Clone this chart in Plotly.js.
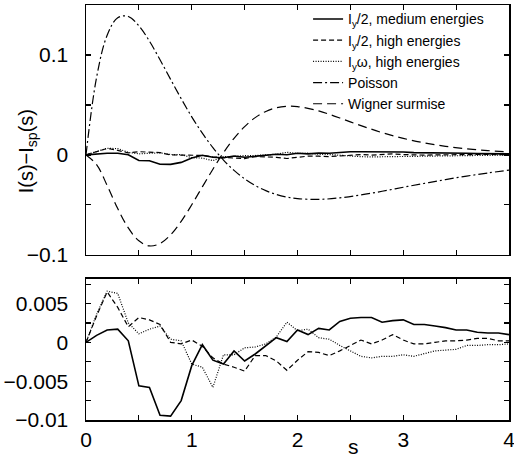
<!DOCTYPE html>
<html>
<head>
<meta charset="utf-8">
<script src="https://cdn.plot.ly/plotly-3.0.1.min.js"></script>
<style>html,body{margin:0;padding:0;background:#fff;}#chart{width:514px;height:460px;}</style>
</head>
<body>
<div id="chart"></div>
<script>
// spacing grid for measured data (step 0.1)
const sData = [0,0.1,0.2,0.3,0.4,0.5,0.6,0.7,0.8,0.9,1.0,1.1,1.2,1.3,1.4,1.5,1.6,1.7,1.8,1.9,2.0,
  2.1,2.2,2.3,2.4,2.5,2.6,2.7,2.8,2.9,3.0,3.1,3.2,3.3,3.4,3.5,3.6,3.7,3.8,3.9,4.0];
// I_y/2, medium energies (solid)
const iy2Medium = [0,0.0009,0.0016,0.0017,0.0002,-0.0056,-0.0058,-0.0094,-0.0095,-0.0075,-0.0030,
  -0.0003,-0.0023,-0.0028,-0.0011,-0.0024,-0.0015,-0.0004,0.0006,0.0001,0.0016,
  0.0010,0.0018,0.0016,0.0027,0.0031,0.0032,0.0032,0.0026,0.0028,0.0029,
  0.0023,0.0023,0.0021,0.0019,0.0016,0.0016,0.0013,0.0012,0.0012,0.0010];
// I_y/2, high energies (dashed)
const iy2High = [0,0.0034,0.0065,0.0045,0.0020,0.0032,0.0029,0.0023,0.0000,-0.0002,0.0003,
  -0.0005,-0.0020,-0.0028,-0.0032,-0.0037,-0.0017,-0.0017,-0.0024,-0.0036,-0.0023,
  -0.0012,-0.0013,-0.0017,-0.0011,-0.0004,0.0003,-0.0002,0.0003,0.0010,0.0003,
  -0.0002,-0.0002,0.0000,0.0002,0.0002,0.0003,0.0005,0.0005,0.0002,0.0002];
// I_y omega, high energies (dotted)
const iyOmegaHigh = [0,0.0036,0.0066,0.0063,0.0025,0.0011,0.0017,0.0021,0.0004,0.0002,-0.0028,
  -0.0032,-0.0058,-0.0016,-0.0016,-0.0007,-0.0006,-0.0002,0.0007,0.0026,0.0015,
  0.0017,0.0006,0.0004,-0.0004,-0.0011,-0.0018,-0.0020,-0.0018,-0.0018,-0.0016,
  -0.0018,-0.0015,-0.0011,-0.0010,-0.0009,-0.0004,-0.0004,-0.0003,-0.0003,-0.0002];
// reference curves
const sRef = [0,0.1,0.2,0.3,0.4,0.5,0.6,0.7,0.8,0.9,1.0,1.1,1.2,1.3,1.4,1.5,1.6,1.7,1.8,1.9,2.0,
  2.2,2.4,2.6,2.8,3.0,3.2,3.4,3.6,3.8,4.0];
const poisson = [0,0.0776,0.1197,0.1373,0.1385,0.1292,0.1138,0.0952,0.0756,0.0563,0.0381,
  0.0217,0.0073,-0.0052,-0.0155,-0.0240,-0.0307,-0.0358,-0.0396,-0.0422,-0.0438,
  -0.0445,-0.0430,-0.0401,-0.0364,-0.0324,-0.0285,-0.0247,-0.0212,-0.0181,-0.0153];
const wigner = [0,-0.0097,-0.0306,-0.0537,-0.0731,-0.0860,-0.0911,-0.0887,-0.0800,-0.0665,-0.0499,
  -0.0320,-0.0143,0.0022,0.0166,0.0283,0.0373,0.0435,0.0472,0.0487,0.0484,
  0.0440,0.0369,0.0293,0.0223,0.0165,0.0120,0.0086,0.0061,0.0043,0.0030];

const names = ["I<sub>y</sub>/2, medium energies","I<sub>y</sub>/2, high energies","I<sub>y</sub>\u03c9, high energies","Poisson","Wigner surmise"];
const xTickVals = [0,0.5,1,1.5,2,2.5,3,3.5,4];
const xTickText = ["0","","1","","2","","3","","4"];
const yTopVals = [-0.1,-0.05,0,0.05,0.1,0.15];
const yTopText = ["\u22120.1","","0","","0.1",""];
const yBotVals = [-0.01,-0.0075,-0.005,-0.0025,0,0.0025,0.005,0.0075];
const yBotText = ["\u22120.01","","\u22120.005","","0","","0.005",""];
const FONT = "Liberation Sans, Arial, Helvetica, sans-serif";

const dataStyles = [
  {y: iy2Medium, dash: "solid", width: 1.6},
  {y: iy2High, dash: "5px,3px", width: 1.2},
  {y: iyOmegaHigh, dash: "1px,1.5px", width: 1.2}
];
const traces = [];
dataStyles.forEach((d, i) => {
  traces.push({x: sData, y: d.y, xaxis: "x", yaxis: "y", mode: "lines", name: names[i],
    line: {color: "#000", width: d.width, dash: d.dash}});
});
traces.push({x: sRef, y: poisson, xaxis: "x", yaxis: "y", mode: "lines", name: names[3],
  line: {color: "#000", width: 1.2, dash: "9px,3px,2px,3px", shape: "spline"}});
traces.push({x: sRef, y: wigner, xaxis: "x", yaxis: "y", mode: "lines", name: names[4],
  line: {color: "#000", width: 1.2, dash: "9px,5px", shape: "spline"}});
dataStyles.forEach((d, i) => {
  traces.push({x: sData, y: d.y, xaxis: "x2", yaxis: "y2", mode: "lines", showlegend: false,
    line: {color: "#000", width: d.width, dash: d.dash}});
});

const axBase = {showgrid: false, zeroline: false, showline: true, linecolor: "#000", linewidth: 1.5,
  mirror: "allticks", ticks: "inside", ticklen: 5, tickwidth: 1.2, tickcolor: "#000",
  ticklabeloverflow: "allow",
  tickfont: {family: FONT, size: 21, color: "#000"}};

const layout = {
  width: 514, height: 460,
  margin: {l: 86, r: 5, t: 3, b: 40},
  paper_bgcolor: "#fff", plot_bgcolor: "#fff",
  font: {family: FONT, color: "#000"},
  showlegend: true,
  legend: {x: 0.525, xanchor: "left", y: 1.004, yanchor: "top", bgcolor: "rgba(0,0,0,0)",
    font: {family: FONT, size: 14, color: "#000"}, tracegroupgap: 0},
  xaxis: Object.assign({}, axBase, {domain: [0, 1], range: [0, 4], anchor: "y",
    tickvals: xTickVals, showticklabels: false}),
  yaxis: Object.assign({}, axBase, {domain: [0.398, 1], range: [-0.1, 0.15], anchor: "x",
    tickvals: yTopVals, ticktext: yTopText, ticklabelstandoff: 12}),
  xaxis2: Object.assign({}, axBase, {domain: [0, 1], range: [0, 4], anchor: "y2",
    tickvals: xTickVals, ticktext: xTickText}),
  yaxis2: Object.assign({}, axBase, {domain: [0, 0.3405], range: [-0.01, 0.0082], anchor: "x2",
    tickvals: yBotVals, ticktext: yBotText, ticklabelstandoff: 12}),
  annotations: [
    {text: "s", xref: "paper", yref: "paper", x: 0.633, y: -0.065, xanchor: "center", yanchor: "middle",
      showarrow: false, font: {family: FONT, size: 21, color: "#000"}},
    {text: "I(s)\u2212I<sub>sp</sub>(s)", xref: "paper", yref: "paper", x: -0.1395, y: 0.6475,
      xanchor: "center", yanchor: "middle", textangle: -90, showarrow: false,
      font: {family: FONT, size: 20, color: "#000"}}
  ]
};

Plotly.newPlot("chart", traces, layout, {displayModeBar: false, staticPlot: true});
</script>
</body>
</html>
